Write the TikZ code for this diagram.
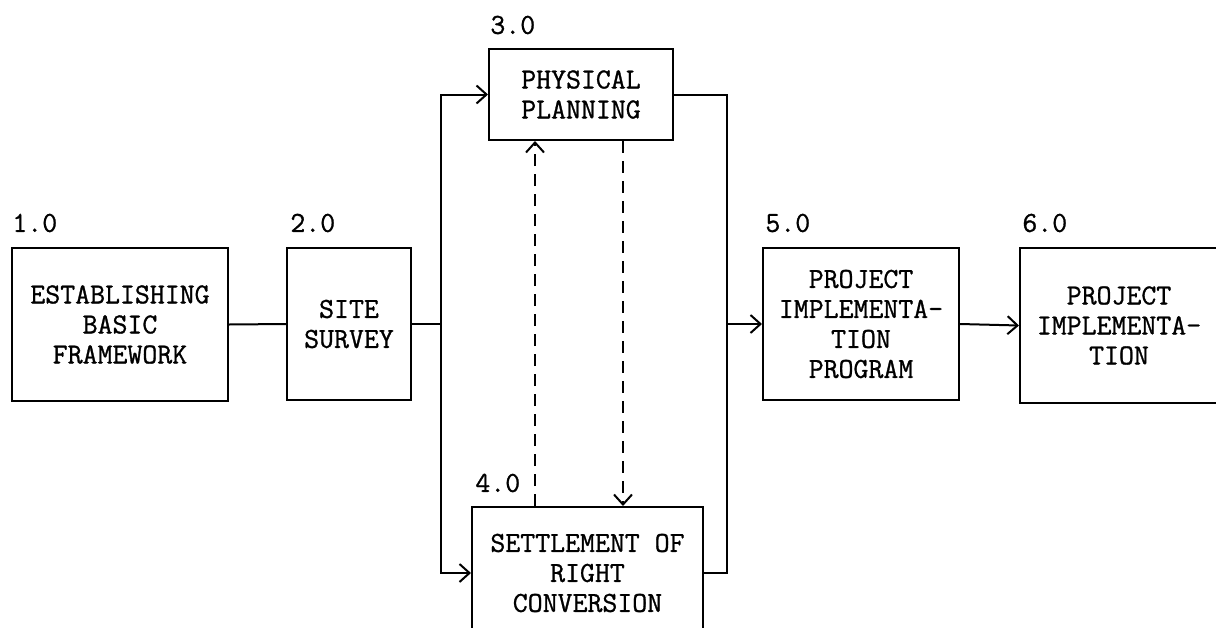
\documentclass[tikz,border=0pt]{standalone}
\usepackage{fontspec}
\newfontfamily\typer{Latin Modern Mono}[FakeBold=1]
\usetikzlibrary{arrows.meta}
\tikzset{
  box/.style={draw, line width=1pt, rectangle, inner sep=0pt, align=center,
    font=\typer\fontsize{14.5}{15}\selectfont},
  num/.style={anchor=west, inner sep=0pt, font=\typer\fontsize{14.5}{15}\selectfont},
  link/.style={line width=1pt},
  flow/.style={line width=1pt, -{Straight Barb[length=5pt,width=9pt,line width=1pt]}},
  swap/.style={flow, dash pattern=on 6pt off 4pt}
}
\begin{document}
\begin{tikzpicture}[x=0.5pt, y=-0.5pt]
  \clip (0,0) rectangle (1216,627);
  \useasboundingbox (0,0) rectangle (1216,627);

  % process boxes
  \node[box, minimum width=108pt, minimum height=76.5pt] (b1) at (120,324.5)
    {ESTABLISHING\\BASIC\\FRAMEWORK};
  \node[box, minimum width=62pt, minimum height=76pt] (b2) at (349,324)
    {SITE\\SURVEY};
  \node[box, minimum width=92pt, minimum height=45.5pt] (b3) at (581,94.5)
    {PHYSICAL\\PLANNING};
  \node[box, minimum width=115.5pt, minimum height=66pt] (b4) at (587.5,573)
    {SETTLEMENT OF\\RIGHT\\CONVERSION};
  \node[box, minimum width=98pt, minimum height=76pt] (b5) at (861,324)
    {PROJECT\\IMPLEMENTA-\\TION\\PROGRAM};
  \node[box, minimum width=99pt, minimum height=77.5pt] (b6) at (1119,325.5)
    {PROJECT\\IMPLEMENTA-\\TION};

  % step numbers
  \node[num] (n1) at (12,223) {1.0};
  \node[num] (n2) at (290,223) {2.0};
  \node[num] (n3) at (490,25) {3.0};
  \node[num] (n4) at (475,483) {4.0};
  \node[num] (n5) at (765,223) {5.0};
  \node[num] (n6) at (1022,223) {6.0};

  % branch and merge points
  \coordinate (split) at (441,324);
  \coordinate (merge) at (727,324);
  \coordinate (up) at (535,0);
  \coordinate (down) at (623,0);

  % main flow
  \draw[link] (b1.east) -- (b2.west);
  \draw[link] (b2.east) -- (split);
  \draw[flow] (split) |- (b3.west);
  \draw[flow] (split) |- (b4.west);
  \draw[link] (b3.east) -| (merge);
  \draw[link] (b4.east) -| (merge);
  \draw[flow] (merge) -- (b5.west);
  \draw[flow] (b5.east) -- (b6.west);

  % exchange between planning and settlement
  \draw[swap] (up |- b4.north) -- (up |- b3.south);
  \draw[swap] (down |- b3.south) -- (down |- b4.north);
\end{tikzpicture}
\end{document}
